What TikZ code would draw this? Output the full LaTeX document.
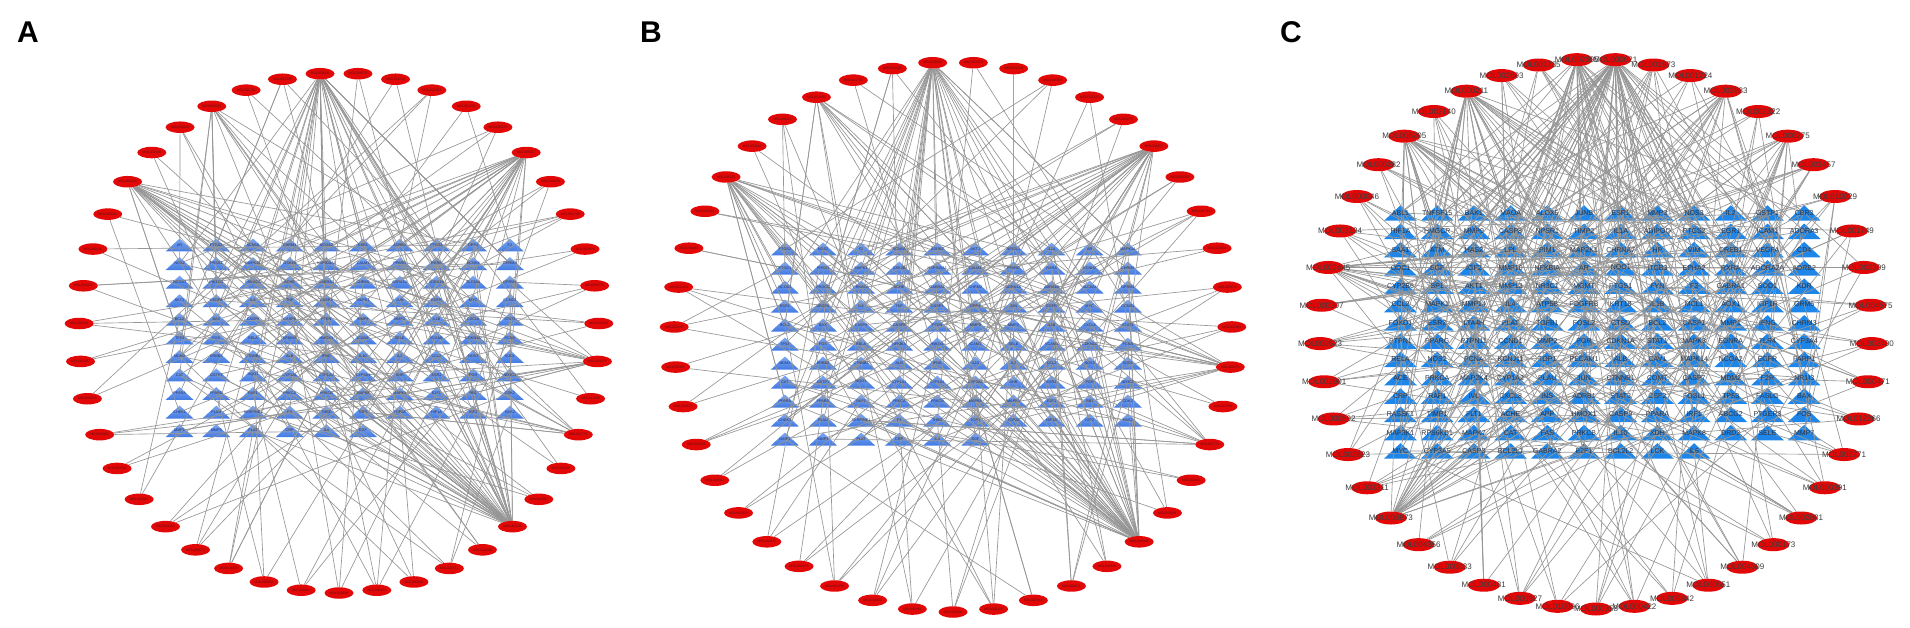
\documentclass[tikz,border=0pt]{standalone}
\usepackage{fontspec}
\setmainfont{Liberation Sans}
\usetikzlibrary{shapes.geometric}
\pgfdeclarelayer{tri}
\pgfdeclarelayer{edgelayer}
\pgfsetlayers{tri,edgelayer,main}
\definecolor{nodered}{RGB}{226,8,8}
\definecolor{edgegray}{RGB}{150,150,150}
\definecolor{triC}{RGB}{30,134,232}
\definecolor{triTop}{RGB}{125,168,242}
\definecolor{triBot}{RGB}{66,122,226}
\definecolor{labAB}{RGB}{30,45,105}
\definecolor{labC}{RGB}{40,50,70}
\definecolor{molABc}{RGB}{100,15,15}
\definecolor{molCc}{RGB}{60,60,60}
\tikzset{
 triAB/.style={minimum width=28pt, minimum height=13pt, inner sep=0pt,
   path picture={\shade[top color=triTop,bottom color=triBot] (path picture bounding box.south west) -- (path picture bounding box.south east) -- (path picture bounding box.north) -- cycle;}},
 triCs/.style={minimum width=33pt, minimum height=15.5pt, inner sep=0pt,
   path picture={\fill[triC] (path picture bounding box.south west) -- (path picture bounding box.south east) -- (path picture bounding box.north) -- cycle;}},
 labABs/.style={font=\fontsize{3.8}{4}\selectfont, text=labAB, inner sep=0pt},
 labCs/.style={font=\fontsize{7}{7}\selectfont, text=labC, inner sep=0pt},
 molAB/.style={ellipse, fill=nodered, minimum width=29pt, minimum height=11.5pt, inner sep=0pt},
 molCs/.style={ellipse, fill=nodered, minimum width=32pt, minimum height=13pt, inner sep=0pt},
 mollabAB/.style={font=\fontsize{3.4}{4}\selectfont, text=molABc, inner sep=0pt},
 mollabC/.style={font=\fontsize{8}{9}\selectfont, text=molCc, inner sep=0pt},
 lnk/.style={draw=edgegray, line width=0.65pt},
 panel/.style={font=\fontsize{30}{30}\selectfont\bfseries, inner sep=0pt},
}
\def\genesA{AR,PTGS2,SCN5A,CHRM1,NCOA2,ESR1,ADRB2,PTGS1,DPP4,F2,NOS2,PRSS1,MAPK14,GSK3B,HSP90AA1,CALM1,PPARG,RXRA,KCNH2,CHRM3,NCOA1,PIK3CG,PRKACA,ACHE,GABRA1,CHRM2,ADRA1A,ADRA1B,SLC6A4,OPRM1,AKT1,VEGFA,IL6,TNF,CASP3,MAPK1,JUN,EGFR,MYC,CCND1,BCL2,BAX,CASP9,CASP8,PTEN,MMP9,MMP2,IL1B,CXCL8,STAT3,TP53,FOS,RELA,NFKBIA,HMOX1,ICAM1,SELE,VCAM1,CDKN1A,PCNA,MDM2,ERBB2,CTNNB1,ALB,IFNG,IL10,IL2,CCL2,NOS3,SOD1,CAT,GSTP1,NQO1,CYP1A1,CYP1A2,CYP3A4,AHR,ESR2,PGR,NR3C1,PPARA,PPARD,RAF1,PRKCA,PRKCB,MAPK8,MAPK3,E2F1,RB1,CDK2,CHEK1,PLAU,SERPINE1,F3,THBD,TOP1,TOP2A,HIF1A,IGF2,HAS2,MMP1,MMP3,PLAT,CRP,IL4,EGF}
\def\genesB{PTGS2,NOS2,F2,SCN5A,ADRB2,AKT1,NFE2L2,IL1A,AR,MAPK14,PTGS1,PRSS1,MAPK1,GSK3B,HSP90AA1,CALM1,PPARG,RXRA,KCNH2,CHRM3,NCOA1,PIK3CG,PRKACA,ACHE,GABRA1,CHRM2,ADRA1A,ADRA1B,SLC6A4,OPRM1,ESR1,VEGFA,IL6,TNF,CASP3,DPP4,JUN,EGFR,MYC,CCND1,BCL2,BAX,CASP9,CASP8,PTEN,MMP9,MMP2,IL1B,CXCL8,STAT3,TP53,FOS,RELA,NFKBIA,HMOX1,ICAM1,SELE,VCAM1,CDKN1A,PCNA,MDM2,ERBB2,CTNNB1,ALB,IFNG,IL10,IL2,CCL2,NOS3,SOD1,CAT,GSTP1,NQO1,CYP1A1,CYP1A2,CYP3A4,AHR,ESR2,PGR,NR3C1,PPARA,PPARD,RAF1,PRKCA,PRKCB,MAPK8,MAPK3,E2F1,RB1,CDK2,CHEK1,PLAU,SERPINE1,F3,THBD,TOP1,TOP2A,HIF1A,IGF2,HAS2,MMP1,MMP3,PLAT,CRP,IL4,EGF}
\def\genesC{ABL1,TNFSF15,BAK1,MAOA,ALOX5,JUNB,ESR1,MMP3,NOS3,IL2,GSTP1,CBR3,HIF1A,HMGCR,MMP9,CASP8,NPSR1,TIMP2,IL1A,ADIPOQ,PTGS2,EGR1,ICAM1,ADORA3,SAA1,ATM,HAS2,LPL,PIM1,MAP2K1,CHRNA7,HP,VIM,CREB1,VEGFA,CD4,ODC1,EGF,IGF2,MMP10,NFKBIA,AR,NQO1,ITGB3,EPHA2,RXRA,ADORA2A,ADRB2,CYP2B6,SP1,AKT1,MMP13,NR3C1,MGMT,PTGS1,FYN,F3,GABRA1,SOD1,KDR,CCL2,MAPK1,MMP14,IL4,ATP5B,PDGFRB,KRT18,IL1B,MCL1,AOX1,IGF1R,GRM5,FOXO1,ESR2,LTA4H,PLAT,TGFB1,FOSL2,CTSD,BCL2,CASP1,MMP1,IFNG,CHRM3,PTPN1,PPARG,PTPN11,CCND1,MMP2,PGR,CDKN1A,STAT1,MAPK3,EDNRA,TLR4,CYP3A4,RELA,NOS2,PCNA,KCNJ11,TOP1,PECAM1,ALB,CAV1,MAPK14,NCOA2,EGFR,PARP1,ACE,PRKCA,MAP2K4,CYP1A2,PLAU,JUN,CTNNB1,COMT,CASP7,MDM2,F2R,NR1I3,CRP,RAF1,IVL,CXCL8,INS,ADRB1,STAT3,CSF2,FOSL1,TP53,FASLG,BAX,RASSF1,TIMP1,FLT1,ACHE,APP,HMOX1,CASP9,PPARA,IRF1,ABCG2,PTGER3,FOS,MAP3K1,RPS6KB1,MAPK7,CAT,FAS,PRKCB,IL10,XDH,MAPK8,DRD2,SELE,MMP7,MYC,CYP3A5,CASP3,BCL2L1,GABRA2,E2F1,BCL2L2,LCK,IL6}
\def\molsA{MOL000358,MOL000422,MOL005842,MOL000551,MOL004609,MOL000098,MOL002881,MOL000391,MOL002771,MOL012266,MOL000471,MOL002400,MOL004575,MOL002309,MOL001749,MOL010029,MOL003457,MOL006275,MOL002322,MOL002883,MOL001224,MOL001973,MOL000006,MOL002305,MOL001735,MOL002693,MOL000211,MOL002140,MOL006205,MOL000282,MOL000046,MOL003104,MOL002445,MOL000307,MOL000523,MOL002901,MOL000592,MOL002823,MOL003311,MOL000873,MOL004356,MOL000033,MOL000481}
\def\molsC{MOL000358,MOL000422,MOL005842,MOL000551,MOL004609,MOL000173,MOL002881,MOL000391,MOL002771,MOL012266,MOL000471,MOL002400,MOL004575,MOL002309,MOL001749,MOL010029,MOL003457,MOL006275,MOL002322,MOL002883,MOL001224,MOL001973,MOL000621,MOL002305,MOL001735,MOL002693,MOL000211,MOL002140,MOL006205,MOL000282,MOL000046,MOL003104,MOL002445,MOL000307,MOL000523,MOL002901,MOL000592,MOL002823,MOL003311,MOL000873,MOL004356,MOL000033,MOL000481,MOL000627,MOL010096}
\def\degA{3,4,3,4,3,45,3,2,9,2,14,3,3,2,4,3,28,3,2,3,2,2,34,4,2,12,3,2,22,2,2,3,3,2,2,3,2,2,3,3,4,3,3}
\def\degC{4,5,4,5,5,4,6,5,5,4,5,4,4,4,5,6,7,14,5,16,5,8,60,30,6,6,30,5,26,5,5,6,20,5,6,5,5,4,5,22,4,4,4,5,4}
\begin{document}
\begin{tikzpicture}[x=1pt,y=-1pt]
\begin{pgfonlayer}{tri}
\fill[white] (0,0) rectangle (1910,628);
\end{pgfonlayer}
\path[use as bounding box] (0,0) rectangle (1910,628);
% panel labels
\node[panel] (pA) at (28,32) {A};
\node[panel] (pB) at (651,32) {B};
\node[panel] (pC) at (1291,32) {C};
% ---------- triangles (one layer pass) ----------
\begin{pgfonlayer}{tri}
\foreach \g [count=\i from 0] in \genesA {
  \pgfmathtruncatemacro\cc{mod(\i,10)}
  \pgfmathtruncatemacro\rr{floor(\i/10)}
  \node[triAB] (A-t\i) at ({179.6+36.7*\cc},{245+18.56*\rr}) {};
}
\foreach \g [count=\i from 0] in \genesB {
  \pgfmathtruncatemacro\cc{mod(\i,10)}
  \pgfmathtruncatemacro\rr{floor(\i/10)}
  \node[triAB] (B-t\i) at ({784.9+38.1*\cc},{249+19*\rr}) {};
}
\foreach \g [count=\i from 0] in \genesC {
  \pgfmathtruncatemacro\cc{mod(\i,12)}
  \pgfmathtruncatemacro\rr{floor(\i/12)}
  \node[triCs] (C-t\i) at ({1400.5+36.7*\cc},{213+18.3*\rr}) {};
}
\end{pgfonlayer}
% triangle labels
\foreach \g [count=\i from 0] in \genesA {\node[labABs] at (A-t\i) {\g};}
\foreach \g [count=\i from 0] in \genesB {\node[labABs] at (B-t\i) {\g};}
\foreach \g [count=\i from 0] in \genesC {\node[labCs] at (C-t\i) {\g};}
% ---------- ellipses ----------
\foreach \lab [count=\k from 0] in \molsA {
  \node[molAB] (A-m\k) at ({339+260*cos(-90+\k*360/43)},{333-260*sin(-90+\k*360/43)}) {};
  \node[mollabAB] at (A-m\k) {\lab};
}
\foreach \lab [count=\k from 0] in \molsA {
  \node[molAB] (B-m\k) at ({953+279*cos(-90+\k*360/43)},{337-275*sin(-90+\k*360/43)}) {};
  \node[mollabAB] at (B-m\k) {\lab};
}
\foreach \lab [count=\k from 0] in \molsC {
  \node[molCs] (C-m\k) at ({1596+276*cos(-90+\k*8)},{334-275*sin(-90+\k*8)}) {};
  \node[mollabC] at (C-m\k) {\lab};
}
% ---------- edges ----------
\begin{pgfonlayer}{edgelayer}
\pgfmathsetseed{11}
\foreach \d [count=\k from 0] in \degA {
  \foreach \j in {1,...,\d} {
    \pgfmathrandominteger{\tgt}{0}{105}
    \draw[lnk] (A-m\k) -- (A-t\tgt.center);
  }
}
\pgfmathsetseed{29}
\foreach \d [count=\k from 0] in \degA {
  \foreach \j in {1,...,\d} {
    \pgfmathrandominteger{\tgt}{0}{105}
    \draw[lnk] (B-m\k) -- (B-t\tgt.center);
  }
}
\pgfmathsetseed{53}
\foreach \d [count=\k from 0] in \degC {
  \foreach \j in {1,...,\d} {
    \pgfmathrandominteger{\tgt}{0}{164}
    \draw[lnk] (C-m\k) -- (C-t\tgt.center);
  }
}
\end{pgfonlayer}
\end{tikzpicture}
\end{document}
